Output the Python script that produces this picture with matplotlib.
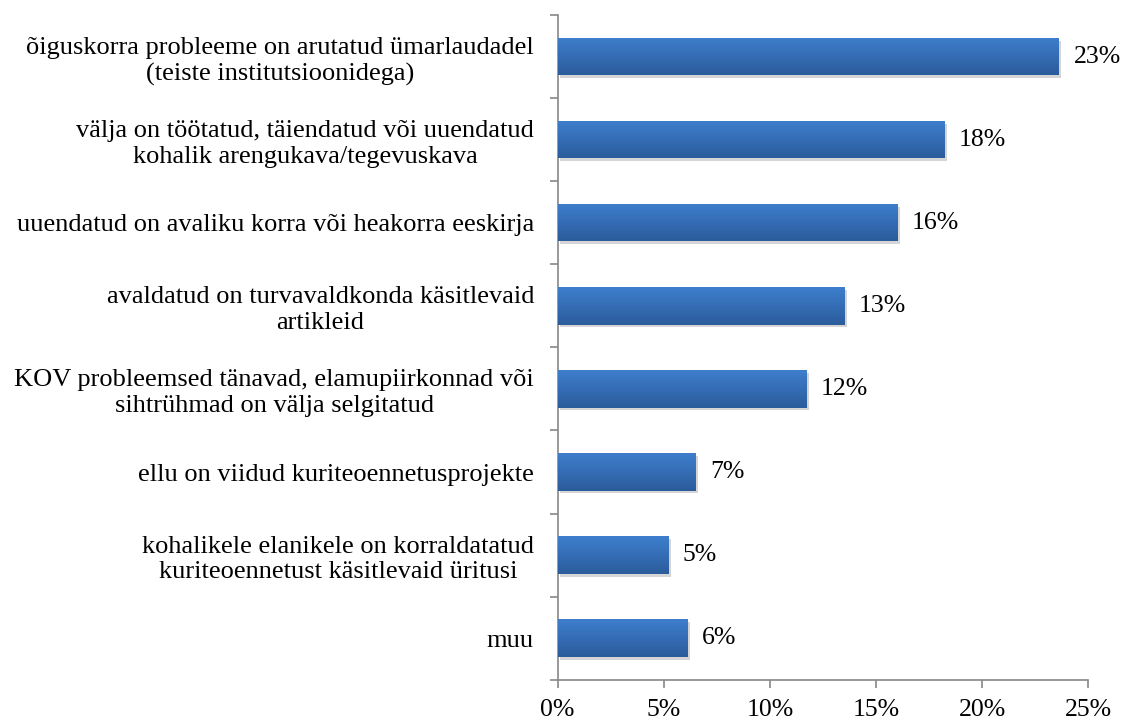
import numpy as np
from matplotlib import pyplot as plt, patheffects
from matplotlib.colors import LinearSegmentedColormap
from matplotlib.ticker import MultipleLocator, PercentFormatter

categories = [
    "õiguskorra probleeme on arutatud ümarlaudadel\n(teiste institutsioonidega)",
    "välja on töötatud, täiendatud või uuendatud\nkohalik arengukava/tegevuskava",
    "uuendatud on avaliku korra või heakorra eeskirja",
    "avaldatud on turvavaldkonda käsitlevaid\nartikleid",
    "KOV probleemsed tänavad, elamupiirkonnad või\nsihtrühmad on välja selgitatud",
    "ellu on viidud kuriteoennetusprojekte",
    "kohalikele elanikele on korraldatatud\nkuriteoennetust käsitlevaid üritusi",
    "muu",
]
shares = [23.6, 18.2, 16.0, 13.5, 11.7, 6.5, 5.2, 6.1]
share_labels = ["23%", "18%", "16%", "13%", "12%", "7%", "5%", "6%"]

plt.rcParams['font.family'] = ['Liberation Serif', 'DejaVu Serif']

fig = plt.figure(figsize=(11.22, 7.2), dpi=100)
ax = fig.add_axes([0.497, 0.056, 0.473, 0.923])

y = np.arange(len(categories))
bars = ax.barh(y, shares, height=0.45, color='#3570b8', zorder=2)

# excel-ish vertical gradient (light on top) + soft shadow
grad = np.linspace(0, 1, 64).reshape(-1, 1)
cmap = LinearSegmentedColormap.from_list('bar', ['#3e7ecd', '#2b5c9c'])
for bar in bars:
    bar.set_path_effects([patheffects.SimplePatchShadow(offset=(2, -2), shadow_rgbFace='#888888', alpha=0.35),
                          patheffects.Normal()])
    x0, y0 = bar.get_x(), bar.get_y()
    w, h = bar.get_width(), bar.get_height()
    im = ax.imshow(grad, cmap=cmap, aspect='auto', extent=(x0, x0 + w, y0 + h, y0),
                   origin='upper', zorder=3)
    im.set_clip_path(bar)

for yi, val, lab in zip(y, shares, share_labels):
    ax.text(val + 0.7, yi, lab, va='center', ha='left', fontsize=18.5, color='black')

ax.set_ylim(len(categories) - 0.5, -0.5)
ax.set_xlim(0, 25)
ax.xaxis.set_major_locator(MultipleLocator(5))
ax.xaxis.set_major_formatter(PercentFormatter(decimals=0))

ax.set_yticks(y)
ax.set_yticklabels(categories, fontsize=19, ha='right', multialignment='center', linespacing=1.22)
ax.tick_params(axis='y', length=0, pad=17)
ax.set_yticks(np.arange(-0.5, len(categories)), minor=True)
ax.tick_params(axis='y', which='minor', length=6, color='#888888', width=1.2)
ax.tick_params(axis='x', length=6, color='#888888', width=1.2, labelsize=18.5, pad=8)

for side in ['top', 'right']:
    ax.spines[side].set_visible(False)
for side in ['left', 'bottom']:
    ax.spines[side].set_color('#888888')
    ax.spines[side].set_linewidth(1.2)

fig.savefig('out.png', dpi=100)
